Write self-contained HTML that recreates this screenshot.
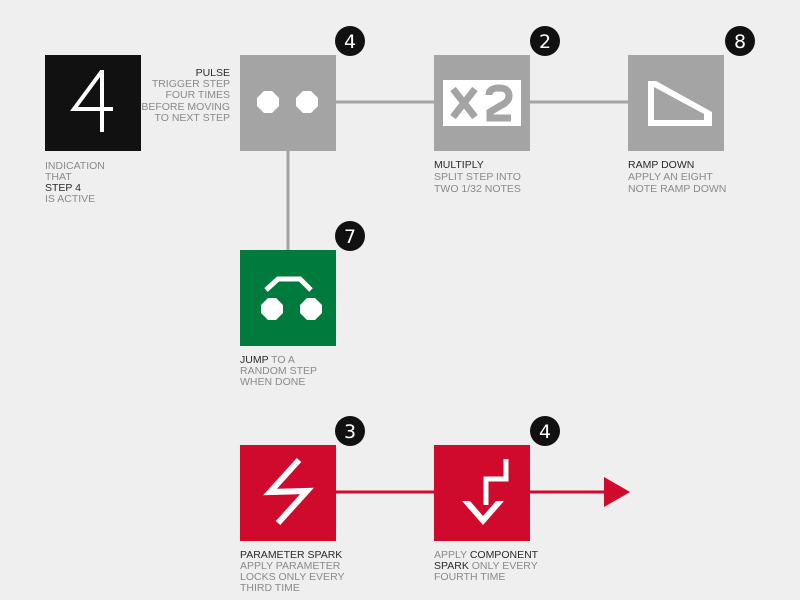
<!DOCTYPE html>
<html><head><meta charset="utf-8"><style>
html,body{margin:0;padding:0;background:#efefef;}
svg{display:block;}
text{font-family:"Liberation Sans",sans-serif;font-size:10.5px;fill:#8a8a8a;}
.b{fill:#2a2a2a;}
.n{font-family:"DejaVu Sans",sans-serif;font-size:19px;fill:#fff;text-anchor:middle;}
</style></head><body>
<svg width="800" height="600" viewBox="0 0 800 600">
<rect width="800" height="600" fill="#efefef"/>
<line x1="335" y1="102" x2="434" y2="102" stroke="#a4a4a4" stroke-width="3"/>
<line x1="530" y1="102" x2="628" y2="102" stroke="#a4a4a4" stroke-width="3"/>
<line x1="288" y1="150" x2="288" y2="250" stroke="#a4a4a4" stroke-width="3"/>
<line x1="335" y1="492" x2="605" y2="492" stroke="#cf0a2c" stroke-width="3"/>
<polygon points="604,477 630,492 604,507" fill="#cf0a2c"/>

<rect x="45" y="55" width="96" height="96" fill="#111"/>
<path d="M102 71 L74 109 L113 109 M102 70 L102 132" stroke="#fff" stroke-width="4" fill="none" stroke-linejoin="miter"/>

<rect x="240" y="55" width="96" height="96" fill="#a4a4a4"/>
<polygon points="264,91 272,91 279,98 279,106 272,113 264,113 257,106 257,98" fill="#fff"/>
<polygon points="303,91 311,91 318,98 318,106 311,113 303,113 296,106 296,98" fill="#fff"/>

<rect x="434" y="55" width="96" height="96" fill="#a4a4a4"/>
<rect x="443" y="80" width="78" height="46" fill="#fff"/>
<path d="M453 89 L475 117 M475 89 L453 117" stroke="#a4a4a4" stroke-width="7"/>
<path d="M489 95 Q489 88 499 88 Q509 88 509 96 Q509 102 500 106 L490 112 L490 118 L511 118" stroke="#a4a4a4" stroke-width="7" fill="none"/>

<rect x="628" y="55" width="96" height="96" fill="#a4a4a4"/>
<polygon points="648,81 656,81 712,112 712,126 648,126" fill="#fff"/>
<polygon points="654,87 654,120 704,120 704,114" fill="#a4a4a4"/>

<rect x="240" y="250" width="96" height="96" fill="#007a3d"/>
<polygon points="268,298 276,298 283,305 283,313 276,320 268,320 261,313 261,305" fill="#fff"/>
<polygon points="307,298 315,298 322,305 322,313 315,320 307,320 300,313 300,305" fill="#fff"/>
<path d="M266 290 L278 279 L300 279 L311 290" stroke="#fff" stroke-width="5" fill="none"/>

<rect x="240" y="445" width="96" height="96" fill="#cf0a2c"/>
<path d="M299 460 L270 492 L307 491 L278 523" stroke="#fff" stroke-width="6" fill="none" stroke-linejoin="miter"/>
<rect x="434" y="445" width="96" height="96" fill="#cf0a2c"/>
<path d="M506 459 L506 479 L486 479 L486 505" stroke="#fff" stroke-width="5" fill="none"/>
<polygon points="462,501 470,501 483,516 496,501 504,501 483,525" fill="#fff"/>

<g>
<circle cx="350" cy="41" r="15" fill="#111"/><text class="n" x="350" y="48">4</text>
<circle cx="545" cy="41" r="15" fill="#111"/><text class="n" x="545" y="48">2</text>
<circle cx="740" cy="41" r="15" fill="#111"/><text class="n" x="740" y="48">8</text>
<circle cx="350" cy="236" r="15" fill="#111"/><text class="n" x="350" y="243">7</text>
<circle cx="350" cy="431" r="15" fill="#111"/><text class="n" x="350" y="438">3</text>
<circle cx="545" cy="431" r="15" fill="#111"/><text class="n" x="545" y="438">4</text>
</g>

<text x="45" y="169">INDICATION</text>
<text x="45" y="180">THAT</text>
<text x="45" y="191" class="b">STEP 4</text>
<text x="45" y="202">IS ACTIVE</text>

<g text-anchor="end">
<text x="230" y="76" class="b">PULSE</text>
<text x="230" y="87">TRIGGER STEP</text>
<text x="230" y="98">FOUR TIMES</text>
<text x="230" y="110">BEFORE MOVING</text>
<text x="230" y="121">TO NEXT STEP</text>
</g>

<text x="434" y="168" class="b">MULTIPLY</text>
<text x="434" y="180">SPLIT STEP INTO</text>
<text x="434" y="192">TWO 1/32 NOTES</text>

<text x="628" y="168" class="b">RAMP DOWN</text>
<text x="628" y="180">APPLY AN EIGHT</text>
<text x="628" y="192">NOTE RAMP DOWN</text>

<text x="240" y="363"><tspan class="b">JUMP</tspan> TO A</text>
<text x="240" y="374">RANDOM STEP</text>
<text x="240" y="385">WHEN DONE</text>

<text x="240" y="558" class="b">PARAMETER SPARK</text>
<text x="240" y="569">APPLY PARAMETER</text>
<text x="240" y="580">LOCKS ONLY EVERY</text>
<text x="240" y="591">THIRD TIME</text>

<text x="434" y="558">APPLY <tspan class="b">COMPONENT</tspan></text>
<text x="434" y="569"><tspan class="b">SPARK</tspan> ONLY EVERY</text>
<text x="434" y="580">FOURTH TIME</text>
</svg>
</body></html>
